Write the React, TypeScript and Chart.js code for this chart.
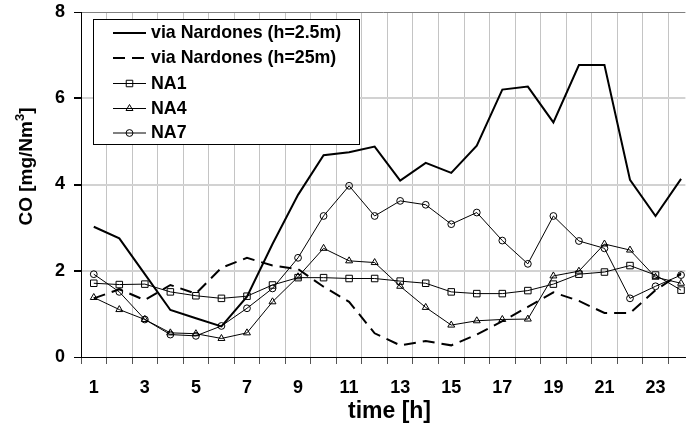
import { useEffect, useRef } from 'react';
import { Chart, registerables } from 'chart.js';

Chart.register(...registerables);

// Hour of the day (1..24)
const hours = [1, 2, 3, 4, 5, 6, 7, 8, 9, 10, 11, 12, 13, 14, 15, 16, 17, 18, 19, 20, 21, 22, 23, 24];
// Hours that carry a label on the time axis
const labelledHours = [1, 3, 5, 7, 9, 11, 13, 15, 17, 19, 21, 23];
// CO concentration ticks [mg/Nm3]
const coTicks = [0, 2, 4, 6, 8];

// CO concentrations [mg/Nm3]
const nardonesLow = [3.02, 2.75, 1.92, 1.09, 0.90, 0.71, 1.40, 2.62, 3.76, 4.68, 4.75, 4.88, 4.09, 4.50, 4.27, 4.90, 6.20, 6.27, 5.44, 6.77, 6.77, 4.11, 3.27, 4.13];
const nardonesHigh = [1.36, 1.57, 1.32, 1.67, 1.47, 2.07, 2.30, 2.12, 2.04, 1.63, 1.28, 0.55, 0.27, 0.37, 0.27, 0.52, 0.83, 1.16, 1.50, 1.30, 1.02, 1.02, 1.55, 1.94];
const na1 = [1.71, 1.68, 1.69, 1.51, 1.42, 1.36, 1.41, 1.67, 1.84, 1.84, 1.82, 1.82, 1.76, 1.71, 1.51, 1.47, 1.47, 1.54, 1.69, 1.92, 1.97, 2.12, 1.90, 1.55];
const na4 = [1.38, 1.10, 0.87, 0.56, 0.54, 0.43, 0.56, 1.28, 1.86, 2.52, 2.23, 2.19, 1.64, 1.15, 0.74, 0.84, 0.87, 0.88, 1.88, 1.99, 2.62, 2.48, 1.85, 1.71];
const na7 = [1.92, 1.51, 0.87, 0.52, 0.49, 0.72, 1.13, 1.59, 2.30, 3.27, 3.97, 3.27, 3.62, 3.53, 3.08, 3.35, 2.70, 2.16, 3.27, 2.69, 2.52, 1.36, 1.64, 1.90];

const FONT = '"Liberation Sans", Arial, Helvetica, sans-serif';

const toPoints = (vals: number[]) => hours.map((h, i) => ({ x: h, y: vals[i] }));

// x ticks alternate: hour boundary (h - 0.5), then hour centre (h)
const xTickValues = hours.flatMap((h) => [h - 0.5, h]);
const isBoundary = (c: any) => c && typeof c.index === 'number' && c.index % 2 === 0;

function drawMarker(ctx: CanvasRenderingContext2D, style: string, r: number, x: number, y: number) {
  ctx.beginPath();
  if (style === 'rect') {
    const s = r * Math.SQRT1_2;
    ctx.rect(x - s, y - s, 2 * s, 2 * s);
  } else if (style === 'triangle') {
    ctx.moveTo(x, y - r);
    ctx.lineTo(x + r * Math.sin(Math.PI * 2 / 3), y - r * Math.cos(Math.PI * 2 / 3));
    ctx.lineTo(x + r * Math.sin(Math.PI * 4 / 3), y - r * Math.cos(Math.PI * 4 / 3));
    ctx.closePath();
  } else if (style === 'circle') {
    ctx.arc(x, y, r, 0, Math.PI * 2);
  } else {
    return;
  }
  ctx.lineWidth = 1;
  ctx.strokeStyle = '#000';
  ctx.setLineDash([]);
  ctx.stroke();
}

// Boxed legend inside the plot plus the axis titles
const decorations = {
  id: 'decorations',
  afterDraw(chart: any) {
    const ctx: CanvasRenderingContext2D = chart.ctx;
    ctx.save();

    // legend box
    const bx = 93.5, by = 19.5, bw = 266, bh = 125;
    ctx.fillStyle = '#fff';
    ctx.fillRect(bx, by, bw, bh);
    ctx.lineWidth = 1;
    ctx.strokeStyle = '#000';
    ctx.setLineDash([]);
    ctx.strokeRect(bx, by, bw, bh);

    const rows = [33, 58, 83.5, 108.5, 133];
    chart.data.datasets.forEach((ds: any, i: number) => {
      const y = rows[i];
      ctx.beginPath();
      ctx.lineWidth = ds.borderWidth;
      ctx.strokeStyle = ds.borderColor;
      ctx.setLineDash(ds.borderDash || []);
      ctx.moveTo(113, y);
      ctx.lineTo(146, y);
      ctx.stroke();
      ctx.setLineDash([]);
      if (ds.pointRadius > 0) drawMarker(ctx, ds.pointStyle, ds.pointRadius, 129.5, y);
      ctx.fillStyle = '#000';
      ctx.font = `bold 17.8px ${FONT}`;
      ctx.textAlign = 'left';
      ctx.textBaseline = 'middle';
      ctx.fillText(ds.label, 151, y + 0.5);
    });

    // y axis title with superscript
    ctx.translate(32, 166.5);
    ctx.rotate(-Math.PI / 2);
    ctx.fillStyle = '#000';
    ctx.textBaseline = 'alphabetic';
    ctx.textAlign = 'left';
    const main = 'CO [mg/Nm';
    const sup = '3';
    const tail = ']';
    ctx.font = `bold 19px ${FONT}`;
    const w1 = ctx.measureText(main).width;
    const w4 = ctx.measureText(tail).width;
    ctx.font = `bold 13px ${FONT}`;
    const w3 = ctx.measureText(sup).width;
    const x0 = -(w1 + w3 + w4) / 2;
    ctx.font = `bold 19px ${FONT}`;
    ctx.fillText(main, x0, 0);
    ctx.font = `bold 13px ${FONT}`;
    ctx.fillText(sup, x0 + w1, -8.5);
    ctx.font = `bold 19px ${FONT}`;
    ctx.fillText(tail, x0 + w1 + w3, 0);
    ctx.restore();

    // x axis title
    ctx.save();
    ctx.fillStyle = '#000';
    ctx.font = `bold 23px ${FONT}`;
    ctx.textAlign = 'center';
    ctx.textBaseline = 'alphabetic';
    ctx.fillText('time [h]', 389.5, 417.5);
    ctx.restore();
  },
};

export default function App() {
  const canvasRef = useRef<HTMLCanvasElement>(null);

  useEffect(() => {
    const canvas = canvasRef.current;
    if (!canvas) return;
    const thin = {
      borderColor: '#000',
      borderWidth: 1,
      pointBorderColor: '#000',
      pointBackgroundColor: 'rgba(0,0,0,0)',
      pointBorderWidth: 1,
      tension: 0,
    };
    const chart = new Chart(canvas, {
      type: 'line',
      data: {
        datasets: [
          { label: 'via Nardones (h=2.5m)', data: toPoints(nardonesLow), borderColor: '#000', borderWidth: 2, pointRadius: 0, tension: 0 },
          { label: 'via Nardones (h=25m)', data: toPoints(nardonesHigh), borderColor: '#000', borderWidth: 2, borderDash: [12, 7], pointRadius: 0, tension: 0 },
          { label: 'NA1', data: toPoints(na1), ...thin, pointStyle: 'rect', pointRadius: 4.6 },
          { label: 'NA4', data: toPoints(na4), ...thin, pointStyle: 'triangle', pointRadius: 4 },
          { label: 'NA7', data: toPoints(na7), ...thin, pointStyle: 'circle', pointRadius: 3.4 },
        ] as any,
      },
      options: {
        responsive: false,
        animation: false,
        devicePixelRatio: 1,
        layout: { padding: { top: 12, left: 0, right: 0, bottom: 0 } },
        plugins: { legend: { display: false }, tooltip: { enabled: false } },
        elements: { line: { borderCapStyle: 'butt', borderJoinStyle: 'miter' } },
        scales: {
          x: {
            type: 'linear',
            min: 0.5,
            max: 24.17,
            afterBuildTicks: (scale: any) => {
              scale.ticks = xTickValues.map((v) => ({ value: v }));
            },
            afterFit: (scale: any) => {
              scale.height = 74;
              scale.paddingLeft = 0;
              scale.paddingRight = 0;
            },
            ticks: {
              autoSkip: false,
              maxRotation: 0,
              padding: 13,
              color: '#000',
              font: { family: FONT, size: 18, weight: 'bold' },
              callback: (v: any) => (labelledHours.includes(Number(v)) ? String(v) : ''),
            },
            grid: {
              color: (c: any) => (isBoundary(c) ? '#c4c4c4' : 'rgba(0,0,0,0)'),
              tickColor: (c: any) => (isBoundary(c) ? '#555' : 'rgba(0,0,0,0)'),
              lineWidth: 1,
              tickLength: 7,
            },
            border: { display: true, color: '#000', width: 1 },
          },
          y: {
            type: 'linear',
            min: 0,
            max: 8,
            afterBuildTicks: (scale: any) => {
              scale.ticks = coTicks.map((v) => ({ value: v }));
            },
            afterFit: (scale: any) => {
              scale.width = 81;
              scale.paddingTop = 0;
              scale.paddingBottom = 0;
            },
            ticks: {
              padding: 9,
              color: '#000',
              font: { family: FONT, size: 18, weight: 'bold' },
            },
            grid: {
              color: (c: any) => (c.tick && c.tick.value === 8 ? '#808080' : c.tick && c.tick.value === 0 ? '#000' : '#d2d2d2'),
              lineWidth: (c: any) => (c.tick && (c.tick.value === 8 || c.tick.value === 0) ? 1 : 2),
              tickColor: '#000',
              tickLength: 7,
            },
            border: { display: true, color: '#000', width: 1 },
          },
        },
      } as any,
      plugins: [decorations],
    });
    return () => chart.destroy();
  }, []);

  return (
    <div style={{ position: 'fixed', left: 0, top: 0, width: 691, height: 431, background: '#fff', overflow: 'hidden' }}>
      <canvas ref={canvasRef} width={691} height={431} style={{ display: 'block' }} />
    </div>
  );
}
